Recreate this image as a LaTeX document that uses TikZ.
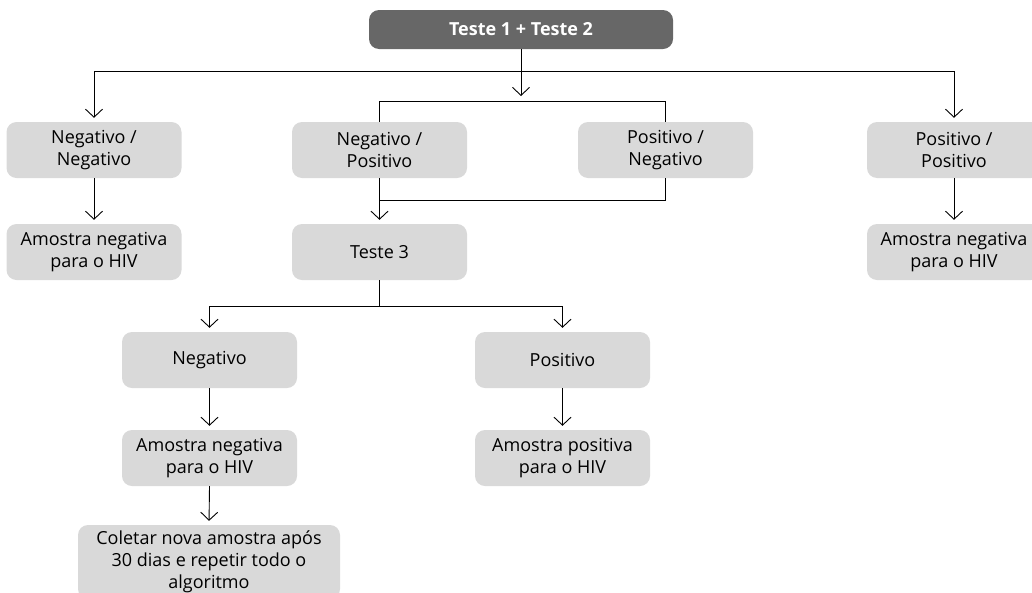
\documentclass[tikz,border=0pt]{standalone}
\usepackage{fontspec}
\setmainfont{Open Sans}
\usetikzlibrary{arrows.meta}
\definecolor{boxgray}{HTML}{D9D9D9}
\definecolor{topgray}{HTML}{676767}
\begin{document}
\begin{tikzpicture}[x=1pt,y=-1pt,
  box/.style={rectangle, rounded corners=10pt, fill=boxgray, draw=none,
    minimum width=175pt, minimum height=56pt, align=center, inner sep=2pt,
    font=\fontsize{18}{22}\selectfont},
  topbox/.style={rectangle, rounded corners=10pt, fill=topgray, draw=none,
    minimum width=304pt, minimum height=39pt, text=white,
    font=\fontsize{18}{22}\selectfont\bfseries},
  conn/.style={line width=0.9pt, black},
  arr/.style={conn, -{Straight Barb[length=8pt,width=17pt,line width=0.9pt]}, shorten >=4pt}
]
\useasboundingbox (0,0) rectangle (1032,592);
\node[topbox] (top) at (521,29.5) {Teste 1 + Teste 2};
\node[box] (nn) at (94,150) {Negativo /\\Negativo};
\node[box] (np) at (379.5,150) {Negativo /\\Positivo};
\node[box] (pn) at (665.5,150) {Positivo /\\Negativo};
\node[box, minimum width=174pt] (pp) at (954,150) {Positivo /\\Positivo};
\node[box] (nna) at (94,252) {Amostra negativa\\para o HIV};
\node[box] (t3) at (379.5,252) {Teste 3};
\node[box, minimum width=174pt] (ppa) at (954,252) {Amostra negativa\\para o HIV};
\node[box] (neg) at (209.5,360) {Negativo};
\node[box] (pos) at (562.5,360) {Positivo};
\node[box] (nega) at (209.5,458) {Amostra negativa\\para o HIV};
\node[box] (posa) at (562.5,458) {Amostra positiva\\para o HIV};
\node[box, minimum width=262pt, minimum height=74pt] (col) at (209,562) {Coletar nova amostra após\\30 dias e repetir todo o\\algoritmo};

\coordinate (hl) at (94,71);
\coordinate (hm) at (521,71);
\coordinate (hr) at (954,71);
\coordinate (brk) at (521,101);
\coordinate (bl) at (379.5,101);
\coordinate (br) at (665.5,101);
\coordinate (j) at (379.5,200);
\coordinate (tj) at (379.5,306);
\coordinate (tl) at (209.5,306);
\coordinate (tr) at (562.5,306);

\draw[conn] (top.south) -- (hm);
\draw[conn] (hl) -- (hr);
\draw[arr, shorten >=5pt] (hm) -- (brk);
\draw[arr] (hl) -- (nn.north);
\draw[arr] (hr) -- (pp.north);
\draw[conn] (np.north) -- (bl) -- (br) -- (pn.north);
\draw[arr] (nn.south) -- (nna.north);
\draw[arr] (pp.south) -- (ppa.north);
\draw[arr] (np.south) -- (t3.north);
\draw[conn] (pn.south) |- (j);
\draw[conn] (t3.south) -- (tj);
\draw[conn] (tl) -- (tr);
\draw[arr] (tl) -- (neg.north);
\draw[arr] (tr) -- (pos.north);
\draw[arr] (neg.south) -- (nega.north);
\draw[arr] (pos.south) -- (posa.north);
\draw[arr] (nega.south) -- (col.north);
\end{tikzpicture}
\end{document}
